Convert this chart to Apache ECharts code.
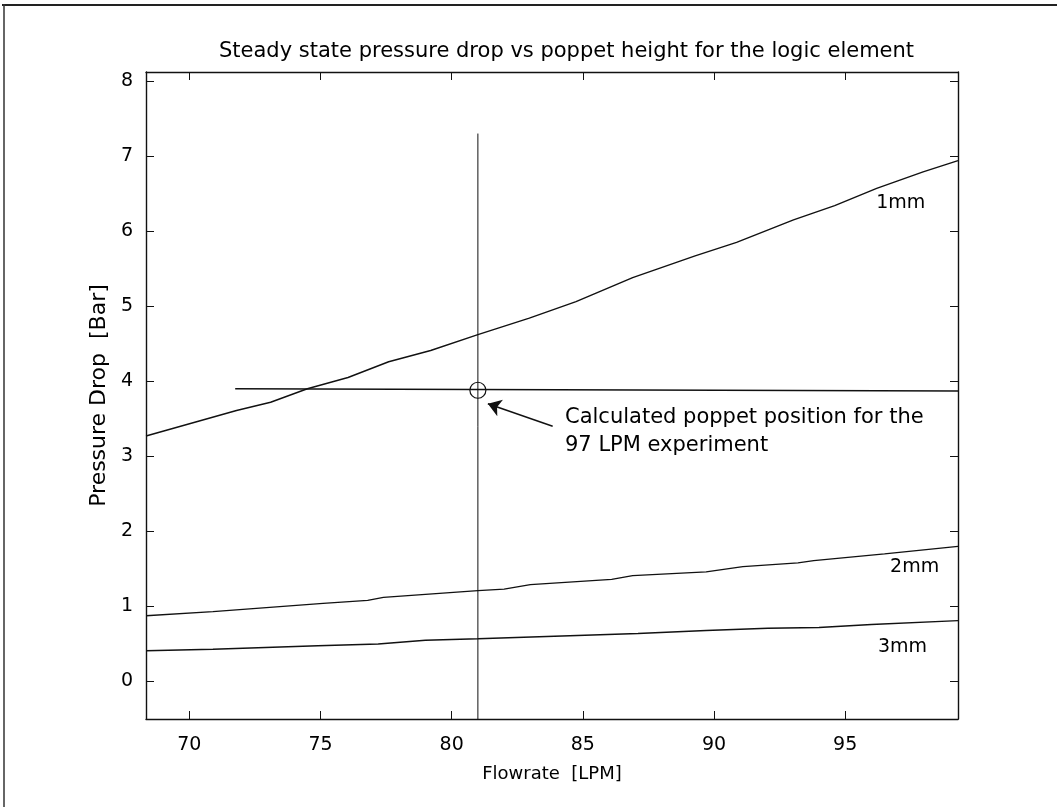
<!DOCTYPE html>
<html>
<head>
<meta charset="utf-8">
<script src="https://cdn.jsdelivr.net/npm/echarts@6/dist/echarts.min.js"></script>
<style>html,body{margin:0;padding:0;background:#fff;}#c{width:1057px;height:807px;}</style>
</head>
<body>
<div id="c"></div>
<script>
// ---- data ----
const xTicks = [70, 75, 80, 85, 90, 95];
const yTicks = [0, 1, 2, 3, 4, 5, 6, 7, 8];
const xRange = [68.35, 99.3];
const yRange = [-0.5, 8.12];

const flow1mm = [68.35, 71.8, 73.1, 74.5, 76.05, 77.6, 79.2, 81.0, 82.96, 84.74, 86.9, 89.28, 90.86, 93.03, 94.6, 96.2, 97.97, 99.3];
const drop1mm = [3.27, 3.61, 3.72, 3.90, 4.05, 4.26, 4.41, 4.62, 4.84, 5.06, 5.38, 5.67, 5.85, 6.15, 6.34, 6.57, 6.79, 6.94];

const flow2mm = [68.35, 70.9, 75.1, 76.8, 77.4, 79.4, 81.0, 82.0, 83.0, 86.1, 86.9, 89.7, 91.1, 93.2, 93.8, 96.5, 99.3];
const drop2mm = [0.875, 0.93, 1.04, 1.08, 1.12, 1.17, 1.21, 1.23, 1.29, 1.36, 1.41, 1.46, 1.53, 1.58, 1.61, 1.70, 1.80];

const flow3mm = [68.35, 70.9, 74.9, 77.2, 79.0, 81.0, 84.5, 87.1, 89.7, 92.05, 94.0, 96.0, 99.3];
const drop3mm = [0.41, 0.43, 0.475, 0.50, 0.55, 0.57, 0.61, 0.64, 0.68, 0.71, 0.72, 0.76, 0.81];

const hLineX = [71.75, 99.3];
const hLineY = [3.90, 3.87];
const vLineX = [81, 81];
const vLineY = [7.3, -0.5];
const operatingPoint = [81, 3.88];
const arrowFrom = [83.85, 3.40];
const arrowTo = [81.38, 3.70];

const curveLabels = ['1mm', '2mm', '3mm'];
const curveLabelPos = [[96.18, 6.37], [96.71, 1.53], [96.25, 0.46]];
const annotationText = 'Calculated poppet position for the\n97 LPM experiment';
const annotationPos = [84.32, 3.335];

const titleText = 'Steady state pressure drop vs poppet height for the logic element';
const xName = 'Flowrate  [LPM]';
const yName = 'Pressure Drop  [Bar]';

// ---- helpers ----
const zip = (xs, ys) => xs.map((x, i) => [x, ys[i]]);
const FONT = '"DejaVu Sans", "Liberation Sans", Arial, sans-serif';
const INK = '#000000';
const lineSeries = (data, w) => ({
  type: 'line', data: data, showSymbol: false, symbol: 'none', silent: true,
  lineStyle: { color: '#111', width: w || 1.4 }, animation: false
});

const chart = echarts.init(document.getElementById('c'), null, { renderer: 'canvas' });

const axisCommon = {
  type: 'value',
  splitLine: { show: false },
  axisLine: { show: true, onZero: false, lineStyle: { color: '#111', width: 1.4 } },
  axisTick: { show: true, inside: true, length: 8, lineStyle: { color: '#111', width: 1 } }
};

chart.setOption({
  animation: false,
  backgroundColor: '#fff',
  title: {
    text: titleText, left: 214, top: 36,
    textStyle: { fontFamily: FONT, fontSize: 21, fontWeight: 'normal', color: INK }
  },
  grid: { left: 146, right: 99, top: 72, bottom: 88, containLabel: false },
  xAxis: [
    Object.assign({}, axisCommon, {
      position: 'bottom', min: xRange[0], max: xRange[1],
      axisTick: Object.assign({}, axisCommon.axisTick, { customValues: xTicks }),
      axisLabel: { customValues: xTicks, margin: 17, fontFamily: FONT, fontSize: 19, color: INK },
      name: xName, nameLocation: 'middle', nameGap: 46,
      nameTextStyle: { fontFamily: FONT, fontSize: 18, color: INK }
    }),
    Object.assign({}, axisCommon, {
      position: 'top', min: xRange[0], max: xRange[1],
      axisTick: Object.assign({}, axisCommon.axisTick, { customValues: xTicks }),
      axisLabel: { show: false }
    })
  ],
  yAxis: [
    Object.assign({}, axisCommon, {
      position: 'left', min: yRange[0], max: yRange[1],
      axisTick: Object.assign({}, axisCommon.axisTick, { customValues: yTicks }),
      axisLabel: { customValues: yTicks, margin: 13, fontFamily: FONT, fontSize: 19, color: INK },
      name: yName, nameLocation: 'middle', nameGap: 34,
      nameTextStyle: { fontFamily: FONT, fontSize: 22, color: INK }
    }),
    Object.assign({}, axisCommon, {
      position: 'right', min: yRange[0], max: yRange[1],
      axisTick: Object.assign({}, axisCommon.axisTick, { customValues: yTicks }),
      axisLabel: { show: false }
    })
  ],
  graphic: [
    { type: 'line', shape: { x1: 2, y1: 5, x2: 1057, y2: 5 }, style: { stroke: '#222', lineWidth: 2 } },
    { type: 'line', shape: { x1: 4, y1: 4, x2: 4, y2: 807 }, style: { stroke: '#333', lineWidth: 1.5 } }
  ],
  series: [
    lineSeries(zip(flow1mm, drop1mm)),
    lineSeries(zip(flow2mm, drop2mm)),
    lineSeries(zip(flow3mm, drop3mm)),
    lineSeries(zip(hLineX, hLineY), 1.5),
    lineSeries(zip(vLineX, vLineY), 1),
    {
      type: 'scatter', data: [operatingPoint], symbol: 'circle', symbolSize: 16, silent: true,
      itemStyle: { color: 'rgba(0,0,0,0)', borderColor: '#111', borderWidth: 1.2, opacity: 1 }
    },
    {
      type: 'lines', coordinateSystem: 'cartesian2d', silent: true,
      data: [{ coords: [arrowFrom, arrowTo] }],
      symbol: ['none', 'arrow'], symbolSize: 13,
      lineStyle: { color: '#111', width: 1.4, opacity: 1 }
    },
    {
      type: 'scatter', symbolSize: 0, silent: true,
      itemStyle: { opacity: 1 },
      data: curveLabels.map((t, i) => ({ name: t, value: curveLabelPos[i] })),
      label: { show: true, position: 'right', distance: 0, formatter: '{b}', fontFamily: FONT, fontSize: 19, color: INK }
    },
    {
      type: 'scatter', symbolSize: 0, silent: true,
      itemStyle: { opacity: 1 },
      data: [{ name: annotationText, value: annotationPos }],
      label: { show: true, position: 'right', distance: 0, formatter: '{b}', fontFamily: FONT, fontSize: 21, lineHeight: 28, color: INK, align: 'left' }
    }
  ]
});
</script>
</body>
</html>
